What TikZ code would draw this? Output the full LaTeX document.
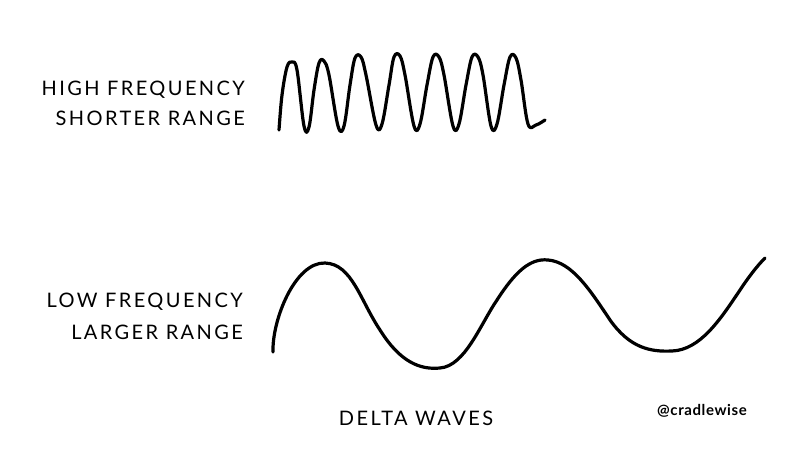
\documentclass[tikz,border=0pt]{standalone}
\usepackage{fontspec}
\setmainfont{Lato}
\newfontfamily\handfont[LetterSpace=12]{Lato}
\newfontfamily\tagfont[LetterSpace=4]{Lato}
\begin{document}
\begin{tikzpicture}[x=1pt,y=-1pt,
  wave/.style={line width=3.2pt,line cap=round,line join=round},
  lbl/.style={anchor=east,inner sep=0pt,font=\handfont\fontsize{20}{24}\selectfont},
  lblc/.style={inner sep=0pt,font=\handfont\fontsize{20}{24}\selectfont}]
\useasboundingbox[fill=white] (0,0) rectangle (800,473);
\node[lbl] (hf) at (245,90) {HIGH FREQUENCY};
\node[lbl] (sr) at (245,118) {SHORTER RANGE};
\node[lbl] (lf) at (243,302) {LOW FREQUENCY};
\node[lbl] (lr) at (243,332) {LARGER RANGE};
\node[lblc] (dw) at (416,418) {DELTA WAVES};
\node[inner sep=0pt,font=\tagfont\bfseries\fontsize{15}{18}\selectfont] (cw) at (702,411) {@cradlewise};
\draw[wave] plot[smooth,tension=0.6] coordinates {
(279,130) (282,95) (287,67) (292,62) (297,70) (304,126) (309,127)
(314,90) (319,63) (324,61) (329,75) (338,126) (344,126)
(350,85) (355,58) (361,57) (366,75) (376,125) (382,124)
(389,85) (394,57) (400,56) (405,75) (414,126) (420,124)
(427,85) (433,57) (439,57) (444,75) (453,126) (459,124)
(466,85) (472,57) (478,57) (483,75) (491,126) (497,124)
(504,85) (510,57) (516,58) (521,80) (528,124) (536,125) (545,120)};
\draw[wave] (273,352) .. controls (272,320) and (295,262) .. (325,263)
  .. controls (352,264) and (360,300) .. (380,330)
  .. controls (400,362) and (420,370) .. (440,368)
  .. controls (465,366) and (480,325) .. (497,300)
  .. controls (515,272) and (530,258) .. (548,260)
  .. controls (572,262) and (590,290) .. (610,320)
  .. controls (630,348) and (650,352) .. (672,351)
  .. controls (700,350) and (720,320) .. (740,290)
  .. controls (750,275) and (758,265) .. (765,258);
\end{tikzpicture}
\end{document}
